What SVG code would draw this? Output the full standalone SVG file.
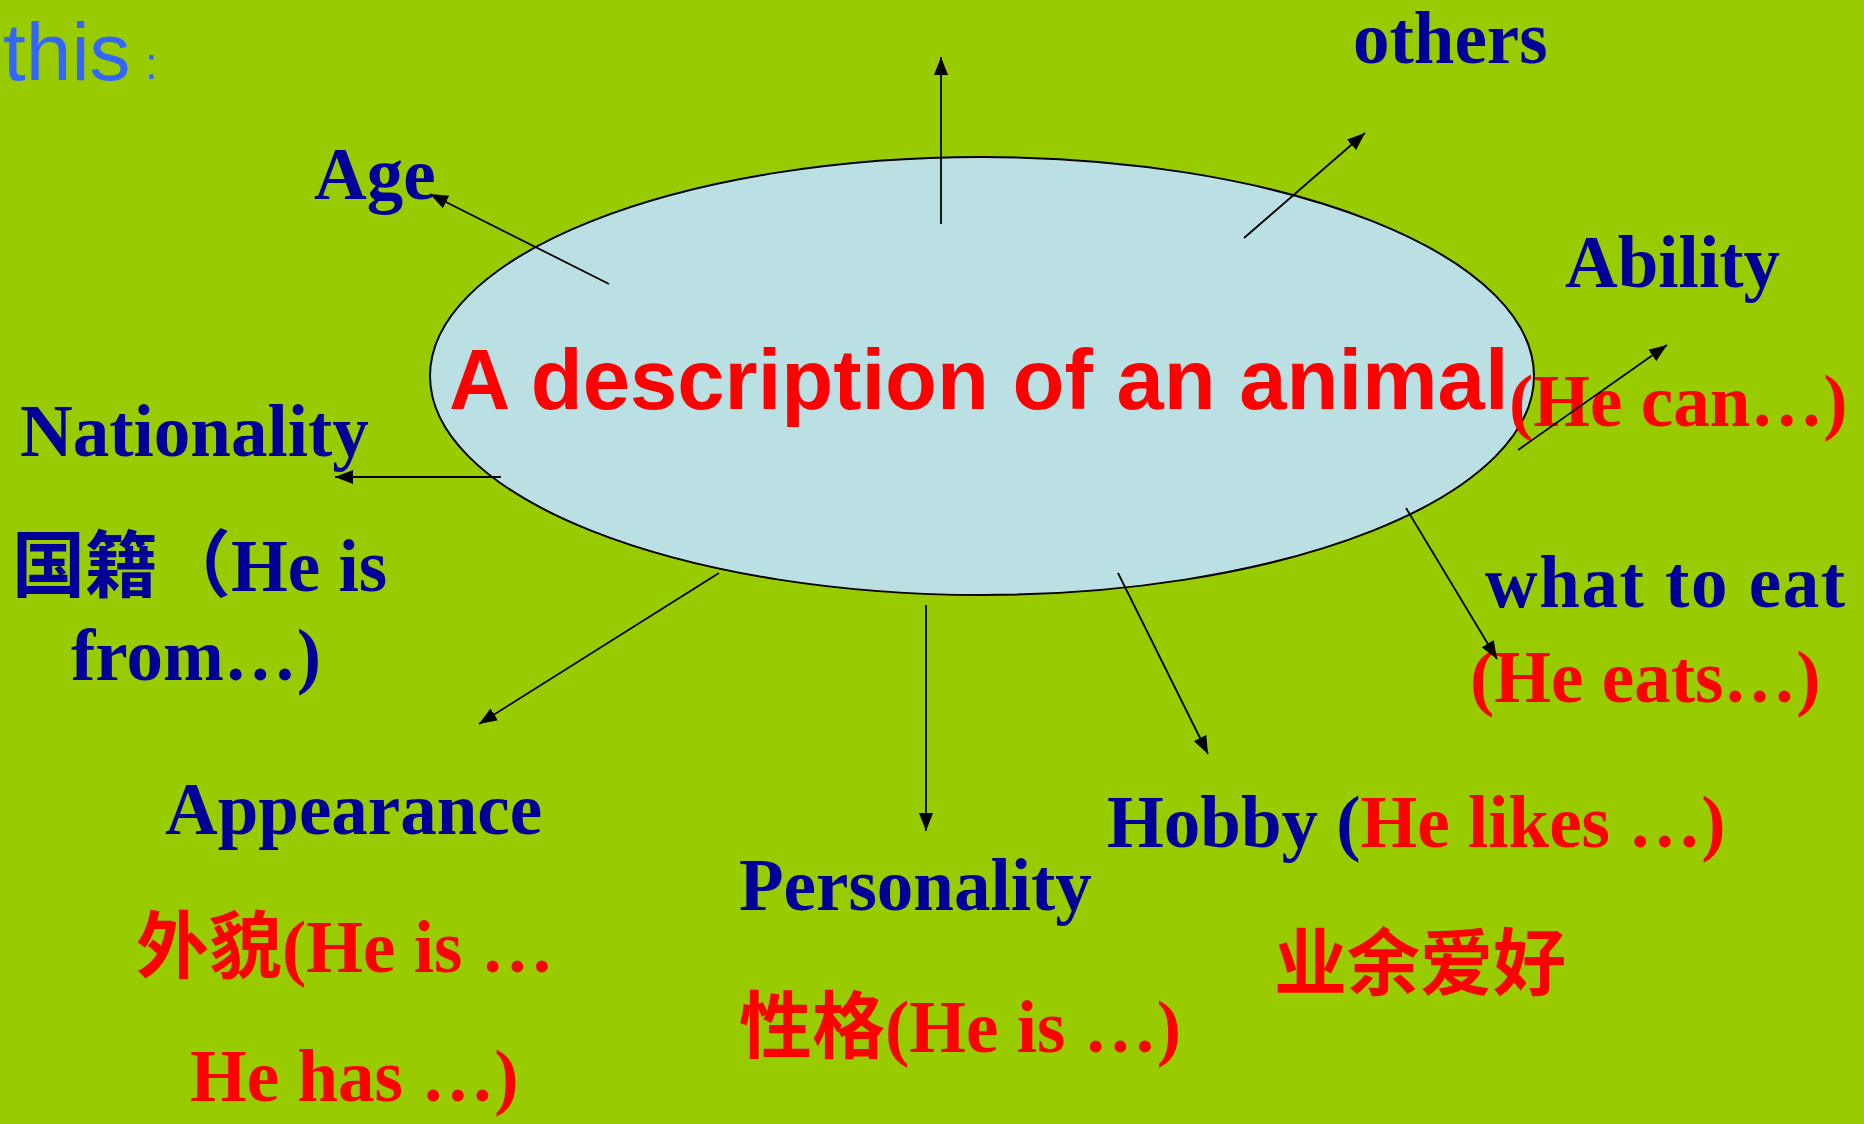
<svg xmlns="http://www.w3.org/2000/svg" width="1864" height="1124" viewBox="0 0 1864 1124">
<style>
.lbl{font-family:"Liberation Serif","Noto Sans CJK SC",serif;font-weight:bold;font-size:73px;fill:#000099}
.red{fill:#FF0000}
.con line{stroke:#000;stroke-width:1.8;fill:none;marker-end:url(#ah)}
</style>
<defs>
<marker id="ah" markerUnits="userSpaceOnUse" markerWidth="20" markerHeight="14" refX="18" refY="7" orient="auto">
<path d="M0,0 L18,7 L0,14 Z" fill="#000"/>
</marker>
</defs>
<rect width="1864" height="1124" fill="#99CC00"/>
<g id="intro">
<text x="3" y="80" font-family="Liberation Sans,Arial,sans-serif" font-size="82" fill="#3366FF">this</text>
<text x="145" y="79" font-family="Liberation Sans,Arial,sans-serif" font-size="44" fill="#3366FF">:</text>
</g>
<g id="center">
<ellipse cx="982" cy="376" rx="552" ry="219" fill="#BBE0E3" stroke="#000" stroke-width="2"/>
<text x="449" y="409" font-family="Liberation Sans,Arial,sans-serif" font-weight="bold" font-size="85" fill="#FF0000">A description of an animal</text>
</g>
<g id="age"><text class="lbl" x="314" y="199" font-size="74">Age</text></g>
<g id="others"><text class="lbl" x="1353" y="63">others</text></g>
<g id="ability">
<text class="lbl" x="1565" y="287">Ability</text>
<text class="lbl red" x="1509" y="426">(He can…)</text>
</g>
<g id="nationality">
<text class="lbl" x="20" y="456" font-size="75">Nationality</text>
<text class="lbl" x="12" y="591">国籍（He is</text>
<text class="lbl" x="71" y="680">from…)</text>
</g>
<g id="eat">
<text class="lbl" x="1485" y="607" textLength="360" lengthAdjust="spacing">what to eat</text>
<text class="lbl red" x="1470" y="702">(He eats…)</text>
</g>
<g id="hobby">
<text class="lbl" x="1107" y="847">Hobby (<tspan class="red">He likes …)</tspan></text>
<text class="lbl red" x="1274" y="989">业余爱好</text>
</g>
<g id="personality">
<text class="lbl" x="739" y="910">Personality</text>
<text class="lbl red" x="739" y="1052">性格(He is …)</text>
</g>
<g id="appearance">
<text class="lbl" x="165" y="834" font-size="74">Appearance</text>
<text class="lbl red" x="136" y="972">外貌(He is …</text>
<text class="lbl red" x="190" y="1101">He has …)</text>
</g>
<g id="connectors" class="con">
<line x1="609" y1="284" x2="430" y2="194"/>
<line x1="941" y1="224" x2="941" y2="57"/>
<line x1="1244" y1="238" x2="1365" y2="133"/>
<line x1="1518" y1="450" x2="1667" y2="345"/>
<line x1="501" y1="477" x2="335" y2="477"/>
<line x1="1406" y1="508" x2="1497" y2="659"/>
<line x1="1118" y1="573" x2="1208" y2="754"/>
<line x1="926" y1="605" x2="926" y2="831"/>
<line x1="719" y1="573" x2="479" y2="724"/>
</g>
</svg>
